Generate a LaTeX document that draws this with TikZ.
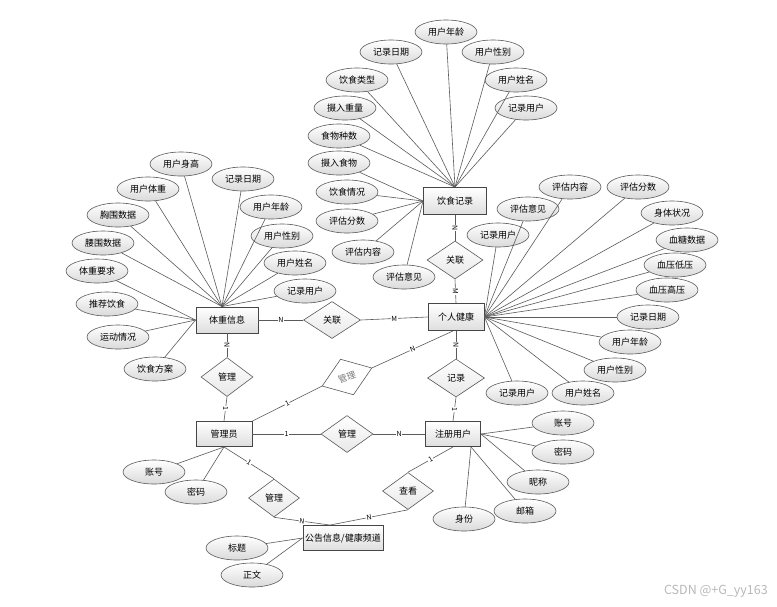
\documentclass[tikz,border=0pt]{standalone}
\usepackage{fontspec}
\setmainfont{Noto Sans CJK SC}
\usetikzlibrary{shapes.geometric,shadows,calc}
\definecolor{lnc}{RGB}{90,90,90}
\definecolor{entb}{RGB}{70,70,70}
\definecolor{entf}{RGB}{222,222,222}
\definecolor{attf}{RGB}{218,218,218}
\definecolor{relf}{RGB}{232,232,232}
\definecolor{gtxt}{RGB}{120,120,120}
\begin{document}
\begin{tikzpicture}[x=1pt,y=-1pt,
  font=\fontsize{9}{10}\selectfont,
  ln/.style={draw=lnc, line width=0.6pt},
  ent/.style={rectangle, draw=entb, line width=0.9pt, top color=white, bottom color=entf, minimum width=62pt, minimum height=26pt, inner sep=0pt, drop shadow={shadow xshift=0.8pt, shadow yshift=-0.8pt, opacity=0.35}},
  attr/.style={ellipse, draw=lnc, line width=0.6pt, top color=white, bottom color=attf, minimum width=62pt, minimum height=24pt, inner sep=0pt},
  rel/.style={diamond, draw=lnc, line width=0.6pt, top color=white, bottom color=relf, minimum width=54pt, minimum height=38pt, inner sep=0pt},
  card/.style={font=\fontsize{7}{7}\selectfont, fill=white, inner sep=0.6pt},
]
\fill[white] (0,0) rectangle (777,606);
\useasboundingbox (0,0) rectangle (777,606);

% entities
\node[ent, minimum width=63pt, minimum height=27pt] (ys) at (455,201) {饮食记录};
\node[ent] (tz) at (227,320) {体重信息};
\node[ent, minimum width=56pt, minimum height=27pt] (gr) at (456,317) {个人健康};
\node[ent, minimum width=56pt, minimum height=25pt] (gly) at (224,434) {管理员};
\node[ent, minimum width=55pt, minimum height=25pt] (zc) at (453,434) {注册用户};
\node[ent, minimum width=80pt, minimum height=25pt] (gg) at (343,538) {公告信息/健康频道};

% relations
\node[rel, minimum width=56pt] (r1) at (455,260) {关联};
\node[rel, minimum width=57pt, minimum height=37pt] (r2) at (332,320) {关联};
\node[rel, minimum width=52pt, minimum height=39pt] (r3) at (227,377) {管理};
\node[diamond, draw=lnc, line width=0.6pt, fill=white, text=gtxt, inner sep=0pt, rotate=20, minimum width=53pt, minimum height=38pt] (r4) at (347,377) {管理};
\node[rel, minimum width=57pt] (r5) at (456,378) {记录};
\node[rel, minimum width=52pt, minimum height=37pt] (r6) at (347,434) {管理};
\node[rel, minimum width=51pt] (r7) at (274,498) {管理};
\node[rel, minimum width=51pt, minimum height=37pt] (r8) at (408,491) {查看};

\coordinate (ysT) at (ys.north);
\coordinate (tzT) at ($(tz.north)+(-5,0)$);
\coordinate (ggT) at ($(gg.north)+(-13,0)$);
\coordinate (zcB) at ($(zc.south)+(18,0)$);
\coordinate (grB) at ($(gr.south)+(-3,0)$);

% relationship connectors
\draw[ln] (ys.south) -- node[card, rotate=-90]{N} (r1.north);
\draw[ln] (r1.south) -- node[card, rotate=-90]{M} (gr.north);
\draw[ln] (tz.east) -- node[card]{N} (r2.west);
\draw[ln] (r2.east) -- node[card]{M} (gr.west);
\draw[ln] (tz.south) -- node[card, rotate=-90]{N} (r3.north);
\draw[ln] (r3.south) -- node[card, rotate=-90]{1} (gly.north);
\draw[ln] (gr.south) -- node[card, rotate=-90]{N} (r5.north);
\draw[ln] (r5.south) -- node[card, rotate=-90]{1} (zc.north);
\draw[ln] (gly.east) -- node[card]{1} (r6.west);
\draw[ln] (r6.east) -- node[card]{N} (zc.west);
\draw[ln] (gly.north east) -- node[card, sloped]{1} (r4.west);
\draw[ln] (r4.east) -- node[card, sloped]{N} (grB);
\draw[ln] (gly.south) -- node[card, sloped]{1} (r7.north);
\draw[ln] (r7.south) -- node[card, sloped]{N} (ggT);
\draw[ln] (r8.south) -- node[card, sloped]{N} (ggT);
\draw[ln] (r8.north) -- node[card, sloped]{1} (zc.south);

% 饮食记录 attributes
\node[attr] (ya1) at (446,32) {用户年龄};
\node[attr] (ya2) at (391,52) {记录日期};
\node[attr] (ya3) at (493,52) {用户性别};
\node[attr] (ya4) at (357,80) {饮食类型};
\node[attr] (ya5) at (516,80) {用户姓名};
\node[attr] (ya6) at (345,108) {摄入重量};
\node[attr] (ya7) at (526,108) {记录用户};
\node[attr] (ya8) at (339,136) {食物种数};
\node[attr] (ya9) at (339,163) {摄入食物};
\node[attr] (ya10) at (347,192) {饮食情况};
\node[attr] (ya11) at (347,221) {评估分数};
\node[attr] (ya12) at (363,252) {评估内容};
\node[attr] (ya13) at (404,277) {评估意见};
\foreach \i in {1,...,8} {\draw[ln] (ya\i) -- (ysT);}
\foreach \i in {9,...,13} {\draw[ln] (ya\i) -- (ys.west);}

% 体重信息 attributes
\node[attr] (ta1) at (181,164) {用户身高};
\node[attr] (ta2) at (148,189) {用户体重};
\node[attr] (ta3) at (243,179) {记录日期};
\node[attr] (ta4) at (118,215) {胸围数据};
\node[attr] (ta5) at (271,207) {用户年龄};
\node[attr] (ta6) at (103,243) {腰围数据};
\node[attr] (ta7) at (282,236) {用户性别};
\node[attr] (ta8) at (97,271) {体重要求};
\node[attr] (ta9) at (295,263) {用户姓名};
\node[attr] (ta10) at (305,291) {记录用户};
\node[attr] (ta11) at (107,304) {推荐饮食};
\node[attr] (ta12) at (118,337) {运动情况};
\node[attr] (ta13) at (155,369) {饮食方案};
\foreach \i in {1,2,3,4,5,6,7,9,10} {\draw[ln] (ta\i) -- (tzT);}
\foreach \i in {8,11,12,13} {\draw[ln] (ta\i) -- (tz.west);}

% 个人健康 attributes
\node[attr] (ga1) at (570,187) {评估内容};
\node[attr] (ga2) at (638,187) {评估分数};
\node[attr] (ga3) at (528,209) {评估意见};
\node[attr] (ga4) at (672,213) {身体状况};
\node[attr] (ga5) at (498,235) {记录用户};
\node[attr] (ga6) at (687,240) {血糖数据};
\node[attr] (ga7) at (675,265) {血压低压};
\node[attr] (ga8) at (667,290) {血压高压};
\node[attr] (ga9) at (648,317) {记录日期};
\node[attr] (ga10) at (630,342) {用户年龄};
\node[attr] (ga11) at (615,370) {用户性别};
\node[attr] (ga12) at (583,393) {用户姓名};
\node[attr] (ga13) at (517,393) {记录用户};
\foreach \i in {1,...,13} {\draw[ln] (ga\i) -- (gr.east);}

% 管理员 attributes
\node[attr] (ma1) at (154,472) {账号};
\node[attr] (ma2) at (196,492) {密码};
\draw[ln] (ma1) -- (gly.south);
\draw[ln] (ma2) -- (gly.south);

% 公告 attributes
\node[attr] (na1) at (237,548) {标题};
\node[attr] (na2) at (252,575) {正文};
\draw[ln] (na1) -- (gg.west);
\draw[ln] (na2) -- (gg.west);

% 注册用户 attributes
\node[attr] (za1) at (563,423) {账号};
\node[attr] (za2) at (563,452) {密码};
\node[attr] (za3) at (538,482) {昵称};
\node[attr] (za4) at (525,511) {邮箱};
\node[attr] (za5) at (464,519) {身份};
\draw[ln] (za1) -- (zc.east);
\draw[ln] (za2) -- (zc.east);
\draw[ln] (za3) -- (zc.east);
\draw[ln] (za4) -- (zcB);
\draw[ln] (za5) -- (zcB);

\node[text=gray!55, font=\fontsize{12.5}{13}\selectfont, anchor=east, inner sep=0pt] (wm) at (768,591) {CSDN @+G\_yy163};
\end{tikzpicture}
\end{document}
